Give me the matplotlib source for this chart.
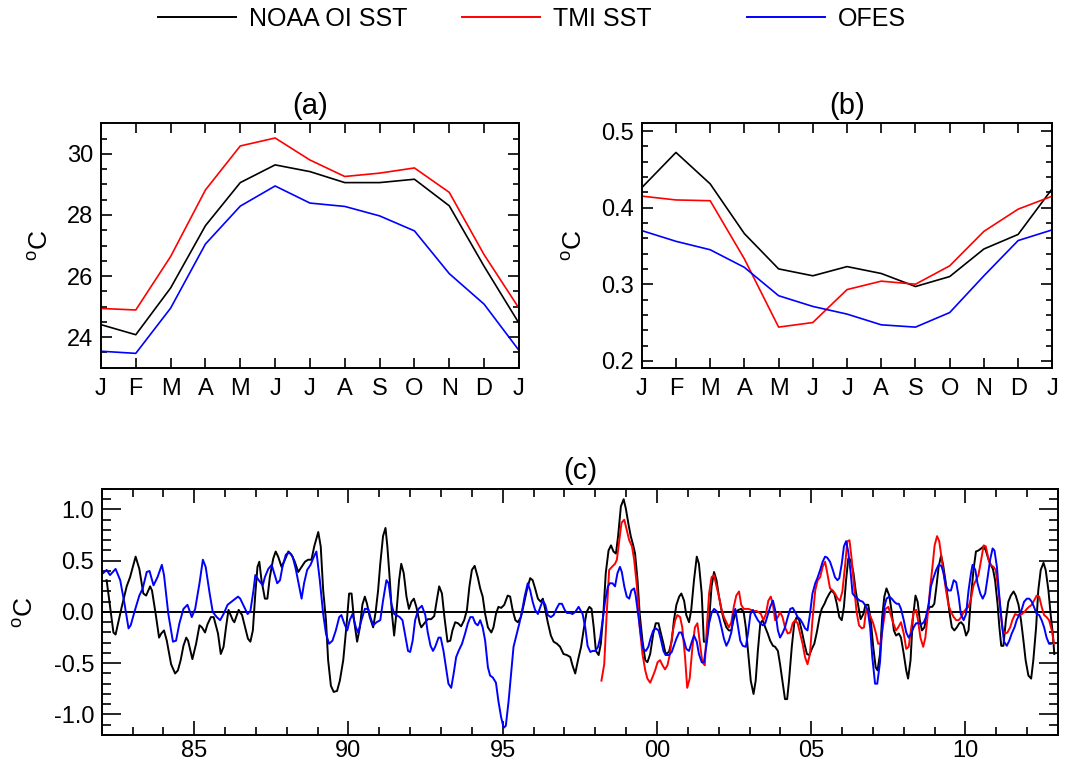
import numpy as np
import matplotlib.pyplot as plt
from matplotlib.ticker import MultipleLocator

plt.rcParams['font.family'] = ['Liberation Sans', 'DejaVu Sans']
plt.rcParams['mathtext.fontset'] = 'custom'
plt.rcParams['mathtext.rm'] = 'Liberation Sans'
plt.rcParams['axes.unicode_minus'] = False

# ---- panel (a): climatology, panel (b): monthly std ----
month_labels = ['J', 'F', 'M', 'A', 'M', 'J', 'J', 'A', 'S', 'O', 'N', 'D', 'J']
clim_noaa = [24.41, 24.08, 25.61, 27.65, 29.06, 29.64, 29.42, 29.06, 29.06, 29.17, 28.30, 26.32, 24.46]
clim_tmi = [24.94, 24.89, 26.64, 28.82, 30.26, 30.52, 29.80, 29.26, 29.37, 29.54, 28.74, 26.70, 24.95]
clim_ofes = [23.54, 23.47, 24.95, 27.05, 28.29, 28.95, 28.39, 28.28, 27.97, 27.48, 26.08, 25.08, 23.57]

std_noaa = [0.426, 0.472, 0.431, 0.366, 0.320, 0.311, 0.323, 0.314, 0.297, 0.310, 0.346, 0.365, 0.425]
std_tmi = [0.415, 0.410, 0.409, 0.333, 0.244, 0.250, 0.293, 0.304, 0.300, 0.324, 0.369, 0.398, 0.415]
std_ofes = [0.370, 0.356, 0.345, 0.322, 0.285, 0.271, 0.261, 0.247, 0.244, 0.263, 0.311, 0.357, 0.371]

# ---- panel (c): anomalies (decimal year, degC) ----
noaa_t = [1982.16, 1982.38, 1982.45, 1982.65, 1982.81, 1982.92, 1983.10, 1983.22, 1983.35, 1983.44,
          1983.57, 1983.63, 1983.75, 1983.86, 1983.93, 1984.02, 1984.11, 1984.25, 1984.38, 1984.47,
          1984.56, 1984.65, 1984.74, 1984.80, 1984.94, 1985.06, 1985.17, 1985.25, 1985.35, 1985.43,
          1985.54, 1985.63, 1985.77, 1985.86, 1985.95, 1986.03, 1986.11, 1986.25, 1986.30, 1986.44,
          1986.55, 1986.65, 1986.74, 1986.82, 1986.90, 1986.98, 1987.05, 1987.11, 1987.18, 1987.29,
          1987.37, 1987.45, 1987.56, 1987.64, 1987.72, 1987.83, 1987.94, 1988.05, 1988.15, 1988.26,
          1988.37, 1988.48, 1988.59, 1988.69, 1988.80, 1988.89, 1989.02, 1989.10, 1989.18, 1989.27,
          1989.34, 1989.43, 1989.52, 1989.63, 1989.72, 1989.83, 1989.93, 1990.02, 1990.10, 1990.18,
          1990.28, 1990.37, 1990.45, 1990.53, 1990.60, 1990.69, 1990.80, 1990.88, 1990.96, 1991.03,
          1991.12, 1991.20, 1991.26, 1991.34, 1991.41, 1991.48, 1991.55, 1991.64, 1991.71, 1991.79,
          1991.88, 1991.96, 1992.04, 1992.12, 1992.20, 1992.31, 1992.36, 1992.46, 1992.57, 1992.68,
          1992.78, 1992.86, 1992.94, 1993.03, 1993.11, 1993.21, 1993.30, 1993.37, 1993.46, 1993.55,
          1993.65, 1993.75, 1993.84, 1993.92, 1994.00, 1994.09, 1994.19, 1994.27, 1994.35, 1994.43,
          1994.52, 1994.63, 1994.70, 1994.78, 1994.86, 1994.95, 1995.05, 1995.16, 1995.24, 1995.32,
          1995.41, 1995.49, 1995.59, 1995.68, 1995.78, 1995.89, 1995.97, 1996.05, 1996.14, 1996.23,
          1996.30, 1996.38, 1996.46, 1996.56, 1996.65, 1996.76, 1996.86, 1996.97, 1997.08, 1997.19,
          1997.26, 1997.35, 1997.44, 1997.54, 1997.62, 1997.72, 1997.81, 1997.88, 1997.95, 1998.02,
          1998.11, 1998.18, 1998.27, 1998.34, 1998.43, 1998.51, 1998.59, 1998.67, 1998.74, 1998.83,
          1998.92, 1998.99, 1999.08, 1999.15, 1999.23, 1999.29, 1999.37, 1999.44, 1999.53, 1999.62,
          1999.69, 1999.78, 1999.88, 1999.96, 2000.05, 2000.12, 2000.21, 2000.28, 2000.39, 2000.48,
          2000.55, 2000.63, 2000.72, 2000.79, 2000.88, 2000.95, 2001.04, 2001.11, 2001.20, 2001.29,
          2001.36, 2001.45, 2001.52, 2001.60, 2001.69, 2001.77, 2001.85, 2001.93, 2002.01, 2002.09,
          2002.17, 2002.25, 2002.33, 2002.41, 2002.48, 2002.56, 2002.64, 2002.73, 2002.81, 2002.88,
          2002.97, 2003.04, 2003.13, 2003.20, 2003.27, 2003.35, 2003.43, 2003.51, 2003.59, 2003.67,
          2003.76, 2003.83, 2003.92, 2003.99, 2004.08, 2004.15, 2004.22, 2004.28, 2004.37, 2004.45,
          2004.53, 2004.61, 2004.69, 2004.78, 2004.86, 2004.94, 2005.02, 2005.10, 2005.18, 2005.27,
          2005.34, 2005.43, 2005.50, 2005.59, 2005.66, 2005.75, 2005.83, 2005.91, 2005.99, 2006.06,
          2006.13, 2006.20, 2006.28, 2006.37, 2006.44, 2006.53, 2006.60, 2006.69, 2006.76, 2006.85,
          2006.93, 2007.01, 2007.09, 2007.15, 2007.23, 2007.30, 2007.37, 2007.44, 2007.53, 2007.60,
          2007.68, 2007.75, 2007.84, 2007.91, 2008.00, 2008.08, 2008.14, 2008.22, 2008.29, 2008.38,
          2008.45, 2008.52, 2008.59, 2008.67, 2008.75, 2008.84, 2008.92, 2008.99, 2009.06, 2009.13,
          2009.21, 2009.27, 2009.35, 2009.42, 2009.49, 2009.56, 2009.64, 2009.72, 2009.80, 2009.86,
          2009.94, 2010.02, 2010.10, 2010.18, 2010.26, 2010.34, 2010.42, 2010.51, 2010.59, 2010.66,
          2010.75, 2010.82, 2010.89, 2010.96, 2011.04, 2011.10, 2011.16, 2011.23, 2011.31, 2011.39,
          2011.47, 2011.56, 2011.63, 2011.72, 2011.80, 2011.88, 2011.95, 2012.04, 2012.13, 2012.20,
          2012.29, 2012.36, 2012.44, 2012.53, 2012.60, 2012.69, 2012.76, 2012.83, 2012.88]
noaa_v = [0.31, -0.20, -0.22, 0.05, 0.25, 0.34, 0.54, 0.42, 0.18, 0.16,
          0.25, 0.21, -0.02, -0.25, -0.21, -0.18, -0.28, -0.51, -0.60, -0.57,
          -0.47, -0.33, -0.25, -0.28, -0.46, -0.31, -0.13, -0.15, -0.20, -0.12,
          -0.05, -0.05, -0.21, -0.41, -0.34, -0.15, 0.02, -0.08, -0.10, 0.02,
          -0.03, -0.15, -0.26, -0.29, -0.18, 0.18, 0.44, 0.49, 0.31, 0.13,
          0.13, 0.34, 0.52, 0.59, 0.54, 0.44, 0.51, 0.59, 0.56, 0.49,
          0.39, 0.44, 0.49, 0.51, 0.51, 0.64, 0.78, 0.64, 0.21, -0.08,
          -0.47, -0.72, -0.78, -0.77, -0.67, -0.47, -0.15, 0.18, 0.18, -0.08,
          -0.29, -0.15, 0.07, 0.15, 0.08, -0.05, -0.15, 0.00, 0.21, 0.47,
          0.74, 0.82, 0.64, 0.31, -0.02, -0.23, -0.02, 0.31, 0.47, 0.38,
          0.15, 0.03, 0.10, 0.13, 0.05, -0.11, -0.15, -0.11, -0.07, -0.07,
          -0.04, 0.11, 0.25, 0.18, -0.05, -0.29, -0.28, -0.18, -0.10, -0.11,
          -0.14, -0.08, 0.02, 0.25, 0.41, 0.45, 0.34, 0.23, 0.15, -0.02,
          -0.15, -0.20, -0.15, -0.02, 0.05, 0.04, 0.07, 0.16, 0.15, 0.02,
          -0.08, -0.10, -0.05, 0.07, 0.21, 0.33, 0.31, 0.23, 0.13, 0.10,
          0.13, 0.02, -0.10, -0.23, -0.29, -0.31, -0.34, -0.41, -0.42, -0.44,
          -0.52, -0.60, -0.47, -0.34, -0.18, 0.00, 0.05, 0.03, -0.15, -0.38,
          -0.42, -0.31, 0.02, 0.38, 0.60, 0.65, 0.59, 0.57, 0.74, 1.03,
          1.10, 1.01, 0.85, 0.74, 0.65, 0.57, 0.31, -0.02, -0.28, -0.47,
          -0.49, -0.41, -0.21, -0.11, -0.11, -0.20, -0.31, -0.41, -0.39, -0.28,
          -0.08, 0.07, 0.15, 0.18, 0.11, -0.03, -0.10, 0.02, 0.31, 0.54,
          0.47, 0.18, -0.29, -0.29, -0.08, 0.25, 0.39, 0.31, 0.15, 0.02,
          -0.08, -0.15, -0.18, -0.18, -0.08, 0.00, 0.02, 0.03, 0.00, -0.15,
          -0.44, -0.67, -0.80, -0.67, -0.38, -0.11, -0.08, -0.15, -0.21, -0.28,
          -0.33, -0.34, -0.38, -0.51, -0.70, -0.85, -0.85, -0.67, -0.34, -0.11,
          -0.05, -0.08, -0.18, -0.31, -0.41, -0.42, -0.36, -0.31, -0.20, -0.05,
          0.03, 0.08, 0.13, 0.18, 0.21, 0.18, 0.08, -0.05, -0.08, 0.05,
          0.31, 0.52, 0.51, 0.38, 0.21, 0.05, -0.07, -0.02, 0.07, 0.07,
          -0.08, -0.34, -0.54, -0.57, -0.41, -0.05, 0.15, 0.23, 0.16, 0.02,
          -0.18, -0.23, -0.21, -0.25, -0.41, -0.57, -0.65, -0.47, -0.08, 0.16,
          0.10, -0.08, -0.18, -0.15, -0.02, 0.05, 0.05, 0.08, 0.25, 0.44,
          0.55, 0.47, 0.31, 0.15, -0.02, -0.15, -0.18, -0.15, -0.11, -0.10,
          -0.13, -0.23, -0.18, 0.15, 0.41, 0.59, 0.60, 0.62, 0.64, 0.60,
          0.51, 0.46, 0.42, 0.31, 0.08, -0.15, -0.33, -0.33, -0.08, 0.10,
          0.16, 0.20, 0.16, 0.07, -0.08, -0.28, -0.47, -0.62, -0.65, -0.47,
          -0.15, 0.21, 0.41, 0.48, 0.41, 0.21, -0.02, -0.21, -0.41]

tmi_t = [1998.20, 1998.29, 1998.37, 1998.45, 1998.54, 1998.64, 1998.70, 1998.78, 1998.85, 1998.94,
         1999.02, 1999.10, 1999.19, 1999.26, 1999.35, 1999.44, 1999.53, 1999.62, 1999.69, 1999.78,
         1999.85, 1999.94, 2000.02, 2000.10, 2000.18, 2000.26, 2000.34, 2000.42, 2000.50, 2000.59,
         2000.66, 2000.75, 2000.82, 2000.91, 2000.98, 2001.06, 2001.15, 2001.23, 2001.31, 2001.38,
         2001.47, 2001.55, 2001.61, 2001.69, 2001.77, 2001.85, 2001.93, 2002.01, 2002.09, 2002.17,
         2002.25, 2002.33, 2002.41, 2002.49, 2002.57, 2002.66, 2002.73, 2002.81, 2002.89, 2002.97,
         2003.05, 2003.13, 2003.22, 2003.29, 2003.37, 2003.45, 2003.53, 2003.61, 2003.69, 2003.76,
         2003.83, 2003.92, 2003.99, 2004.07, 2004.15, 2004.24, 2004.32, 2004.40, 2004.48, 2004.56,
         2004.64, 2004.72, 2004.80, 2004.88, 2004.96, 2005.04, 2005.13, 2005.21, 2005.29, 2005.37,
         2005.45, 2005.52, 2005.61, 2005.70, 2005.77, 2005.86, 2005.93, 2006.01, 2006.10, 2006.17,
         2006.24, 2006.31, 2006.39, 2006.47, 2006.55, 2006.64, 2006.71, 2006.78, 2006.85, 2006.93,
         2007.01, 2007.10, 2007.17, 2007.25, 2007.34, 2007.41, 2007.50, 2007.57, 2007.66, 2007.75,
         2007.82, 2007.91, 2008.00, 2008.08, 2008.16, 2008.24, 2008.32, 2008.40, 2008.46, 2008.54,
         2008.63, 2008.70, 2008.78, 2008.86, 2008.94, 2009.00, 2009.08, 2009.15, 2009.22, 2009.29,
         2009.37, 2009.45, 2009.53, 2009.62, 2009.70, 2009.78, 2009.86, 2009.94, 2010.02, 2010.10,
         2010.18, 2010.26, 2010.34, 2010.42, 2010.51, 2010.59, 2010.66, 2010.75, 2010.82, 2010.91,
         2010.98, 2011.07, 2011.15, 2011.21, 2011.29, 2011.36, 2011.45, 2011.52, 2011.61, 2011.69,
         2011.75, 2011.83, 2011.91, 2011.99, 2012.06, 2012.15, 2012.22, 2012.31, 2012.39, 2012.47,
         2012.55, 2012.63, 2012.71, 2012.80, 2012.87]
tmi_v = [-0.67, -0.51, -0.02, 0.41, 0.44, 0.47, 0.51, 0.70, 0.87, 0.90,
         0.80, 0.70, 0.64, 0.51, 0.25, -0.15, -0.41, -0.57, -0.65, -0.69,
         -0.64, -0.57, -0.49, -0.47, -0.52, -0.56, -0.52, -0.41, -0.21, -0.08,
         -0.03, -0.05, -0.15, -0.44, -0.74, -0.65, -0.34, -0.15, -0.11, -0.28,
         -0.49, -0.52, -0.18, 0.18, 0.34, 0.36, 0.25, 0.15, 0.03, -0.05,
         -0.10, -0.15, -0.10, 0.05, 0.16, 0.20, 0.07, 0.03, 0.03, 0.03,
         0.02, 0.01, 0.01, 0.00, -0.02, -0.08, -0.02, 0.11, 0.15, 0.07,
         -0.08, -0.05, 0.00, -0.05, -0.15, -0.21, -0.20, -0.11, -0.08, -0.11,
         -0.21, -0.31, -0.44, -0.51, -0.41, -0.08, 0.21, 0.31, 0.34, 0.44,
         0.49, 0.38, 0.23, 0.21, 0.18, 0.13, 0.11, 0.20, 0.46, 0.69,
         0.70, 0.52, 0.25, 0.00, -0.13, -0.16, -0.15, 0.02, 0.00, -0.05,
         -0.11, -0.21, -0.31, -0.31, -0.11, 0.03, 0.05, -0.02, -0.11, -0.18,
         -0.15, -0.10, -0.21, -0.36, -0.34, -0.16, 0.00, 0.02, -0.08, -0.25,
         -0.34, -0.25, -0.02, 0.25, 0.47, 0.65, 0.74, 0.69, 0.54, 0.38,
         0.21, 0.07, 0.00, -0.05, -0.08, -0.08, -0.05, 0.00, 0.03, 0.05,
         0.13, 0.26, 0.31, 0.36, 0.51, 0.65, 0.64, 0.51, 0.46, 0.44,
         0.41, 0.21, -0.03, -0.18, -0.21, -0.20, -0.15, -0.08, -0.02, -0.03,
         -0.03, -0.02, 0.00, 0.03, 0.05, 0.07, 0.11, 0.16, 0.15, 0.05,
         -0.03, -0.05, -0.08, -0.18, -0.31]

ofes_t = [1982.05, 1982.16, 1982.27, 1982.45, 1982.60, 1982.74, 1982.87, 1982.94, 1983.08, 1983.22,
          1983.33, 1983.46, 1983.55, 1983.68, 1983.81, 1983.95, 1984.02, 1984.16, 1984.31, 1984.41,
          1984.52, 1984.65, 1984.78, 1984.92, 1985.03, 1985.17, 1985.28, 1985.37, 1985.50, 1985.60,
          1985.73, 1985.84, 1985.95, 1986.08, 1986.25, 1986.42, 1986.49, 1986.62, 1986.73, 1986.82,
          1986.92, 1986.98, 1987.09, 1987.22, 1987.29, 1987.40, 1987.51, 1987.58, 1987.69, 1987.78,
          1987.86, 1987.97, 1988.08, 1988.19, 1988.29, 1988.40, 1988.48, 1988.56, 1988.66, 1988.77,
          1988.88, 1988.96, 1989.07, 1989.18, 1989.27, 1989.37, 1989.48, 1989.59, 1989.70, 1989.77,
          1989.86, 1989.96, 1990.04, 1990.13, 1990.24, 1990.31, 1990.42, 1990.53, 1990.64, 1990.71,
          1990.80, 1990.91, 1991.03, 1991.12, 1991.23, 1991.30, 1991.39, 1991.48, 1991.55, 1991.66,
          1991.75, 1991.84, 1991.93, 1992.00, 1992.08, 1992.16, 1992.27, 1992.38, 1992.49, 1992.57,
          1992.66, 1992.74, 1992.81, 1992.92, 1992.99, 1993.08, 1993.16, 1993.24, 1993.33, 1993.41,
          1993.49, 1993.57, 1993.68, 1993.78, 1993.87, 1993.95, 1994.03, 1994.11, 1994.19, 1994.27,
          1994.35, 1994.43, 1994.52, 1994.59, 1994.68, 1994.78, 1994.86, 1994.95, 1995.03, 1995.10,
          1995.19, 1995.28, 1995.35, 1995.44, 1995.54, 1995.62, 1995.71, 1995.81, 1995.89, 1995.97,
          1996.05, 1996.14, 1996.22, 1996.30, 1996.38, 1996.46, 1996.56, 1996.65, 1996.74, 1996.83,
          1996.92, 1997.01, 1997.08, 1997.19, 1997.26, 1997.35, 1997.46, 1997.59, 1997.68, 1997.75,
          1997.84, 1997.91, 1998.00, 1998.09, 1998.16, 1998.24, 1998.32, 1998.41, 1998.47, 1998.56,
          1998.64, 1998.72, 1998.80, 1998.86, 1998.94, 1999.02, 1999.10, 1999.17, 1999.26, 1999.31,
          1999.39, 1999.48, 1999.55, 1999.64, 1999.72, 1999.80, 1999.88, 1999.96, 2000.05, 2000.12,
          2000.21, 2000.28, 2000.39, 2000.48, 2000.55, 2000.63, 2000.72, 2000.79, 2000.88, 2000.95,
          2001.04, 2001.13, 2001.20, 2001.29, 2001.36, 2001.45, 2001.52, 2001.61, 2001.69, 2001.77,
          2001.85, 2001.93, 2002.01, 2002.09, 2002.17, 2002.25, 2002.33, 2002.41, 2002.48, 2002.54,
          2002.61, 2002.70, 2002.78, 2002.88, 2002.95, 2003.03, 2003.11, 2003.18, 2003.27, 2003.35,
          2003.43, 2003.51, 2003.59, 2003.67, 2003.76, 2003.83, 2003.92, 2003.99, 2004.08, 2004.15,
          2004.24, 2004.32, 2004.40, 2004.48, 2004.56, 2004.64, 2004.72, 2004.80, 2004.88, 2004.96,
          2005.04, 2005.13, 2005.20, 2005.29, 2005.37, 2005.45, 2005.52, 2005.61, 2005.70, 2005.77,
          2005.85, 2005.91, 2005.99, 2006.06, 2006.13, 2006.20, 2006.28, 2006.34, 2006.42, 2006.50,
          2006.58, 2006.67, 2006.74, 2006.83, 2006.91, 2006.98, 2007.07, 2007.14, 2007.23, 2007.30,
          2007.37, 2007.44, 2007.53, 2007.61, 2007.69, 2007.77, 2007.84, 2007.91, 2008.00, 2008.08,
          2008.16, 2008.24, 2008.32, 2008.40, 2008.48, 2008.57, 2008.65, 2008.72, 2008.81, 2008.88,
          2008.97, 2009.05, 2009.13, 2009.22, 2009.29, 2009.37, 2009.45, 2009.53, 2009.62, 2009.70,
          2009.78, 2009.85, 2009.94, 2010.02, 2010.10, 2010.18, 2010.23, 2010.32, 2010.39, 2010.48,
          2010.56, 2010.64, 2010.72, 2010.80, 2010.88, 2010.94, 2011.02, 2011.09, 2011.18, 2011.25,
          2011.34, 2011.42, 2011.50, 2011.59, 2011.66, 2011.74, 2011.83, 2011.90, 2011.99, 2012.07,
          2012.15, 2012.22, 2012.31, 2012.39, 2012.47, 2012.55, 2012.63, 2012.71, 2012.77]
ofes_v = [0.38, 0.41, 0.36, 0.42, 0.31, 0.08, -0.16, -0.13, 0.02, 0.16,
          0.23, 0.39, 0.40, 0.26, 0.34, 0.46, 0.36, -0.02, -0.29, -0.28,
          -0.11, 0.03, 0.07, -0.05, 0.03, 0.28, 0.51, 0.44, 0.18, 0.00,
          -0.05, -0.08, -0.02, 0.07, 0.11, 0.15, 0.13, 0.05, -0.02, 0.01,
          0.21, 0.36, 0.31, 0.26, 0.34, 0.42, 0.46, 0.39, 0.28, 0.31,
          0.44, 0.56, 0.58, 0.54, 0.42, 0.25, 0.13, 0.28, 0.41, 0.46,
          0.54, 0.59, 0.31, -0.02, -0.21, -0.31, -0.28, -0.18, -0.05, -0.03,
          -0.11, -0.18, -0.08, -0.02, -0.15, -0.20, -0.08, 0.03, 0.03, -0.05,
          -0.13, -0.10, -0.08, 0.11, 0.31, 0.28, 0.08, -0.02, -0.03, -0.05,
          -0.08, -0.23, -0.38, -0.39, -0.28, -0.08, 0.03, 0.06, -0.03, -0.20,
          -0.33, -0.38, -0.34, -0.25, -0.25, -0.38, -0.54, -0.70, -0.74, -0.60,
          -0.44, -0.38, -0.31, -0.21, -0.11, -0.05, -0.05, -0.11, -0.13, -0.08,
          -0.15, -0.28, -0.54, -0.62, -0.64, -0.69, -0.87, -1.03, -1.13, -1.11,
          -0.87, -0.57, -0.34, -0.23, -0.11, 0.00, 0.15, 0.28, 0.21, 0.10,
          0.02, -0.02, 0.05, 0.11, 0.07, -0.03, -0.05, -0.03, 0.03, 0.08,
          0.08, 0.02, -0.01, -0.01, -0.02, 0.00, 0.05, -0.02, -0.16, -0.33,
          -0.39, -0.38, -0.38, -0.34, -0.25, -0.08, 0.11, 0.25, 0.28, 0.28,
          0.25, 0.38, 0.44, 0.39, 0.25, 0.15, 0.13, 0.21, 0.23, 0.16,
          -0.02, -0.23, -0.36, -0.38, -0.34, -0.25, -0.18, -0.16, -0.18, -0.26,
          -0.38, -0.42, -0.42, -0.39, -0.33, -0.26, -0.20, -0.20, -0.28, -0.36,
          -0.38, -0.29, -0.23, -0.29, -0.41, -0.49, -0.49, -0.31, -0.11, -0.01,
          0.03, 0.01, -0.05, -0.15, -0.26, -0.33, -0.28, -0.20, -0.02, 0.03,
          -0.11, -0.28, -0.33, -0.34, -0.21, -0.02, 0.02, -0.03, -0.08, -0.11,
          -0.13, -0.11, -0.03, 0.05, 0.11, 0.02, -0.18, -0.25, -0.20, -0.15,
          -0.05, 0.03, 0.04, 0.00, -0.05, -0.07, -0.11, -0.16, -0.18, -0.02,
          0.18, 0.28, 0.33, 0.41, 0.49, 0.54, 0.53, 0.49, 0.41, 0.34,
          0.31, 0.33, 0.47, 0.64, 0.69, 0.59, 0.38, 0.18, 0.15, 0.13,
          0.11, 0.10, 0.07, 0.02, -0.15, -0.44, -0.70, -0.70, -0.49, -0.15,
          0.05, 0.13, 0.15, 0.13, 0.10, 0.08, 0.08, 0.03, -0.08, -0.20,
          -0.25, -0.21, -0.15, -0.11, -0.11, -0.12, -0.10, -0.05, 0.08, 0.25,
          0.34, 0.41, 0.46, 0.45, 0.38, 0.25, 0.21, 0.21, 0.31, 0.29,
          0.15, -0.02, -0.08, -0.02, 0.21, 0.38, 0.46, 0.41, 0.28, 0.18,
          0.13, 0.18, 0.34, 0.51, 0.62, 0.60, 0.44, 0.18, -0.11, -0.29,
          -0.33, -0.28, -0.21, -0.15, -0.08, -0.03, 0.03, 0.10, 0.13, 0.13,
          0.10, 0.05, -0.02, -0.03, -0.08, -0.15, -0.25, -0.31, -0.31]

year_ticks = [1985, 1990, 1995, 2000, 2005, 2010]
year_labels = ['85', '90', '95', '00', '05', '10']

names = ['NOAA OI SST', 'TMI SST', 'OFES']
colors = ['black', '#ff0000', '#0000ff']

fig = plt.figure(figsize=(10.66, 7.68), dpi=100)
ax_a = fig.add_axes([0.0947, 0.5212, 0.3921, 0.3182])
ax_b = fig.add_axes([0.6020, 0.5212, 0.3852, 0.3182])
ax_c = fig.add_axes([0.0954, 0.0430, 0.8971, 0.3203])


def style(ax, xlen, xminlen, ylen, yminlen, xpad):
    for s in ax.spines.values():
        s.set_linewidth(1.4)
    ax.tick_params(which='both', direction='in', top=True, right=True,
                   labelsize=17, width=1.2)
    ax.tick_params(axis='y', pad=5.5)
    ax.tick_params(axis='x', pad=xpad)
    ax.tick_params(axis='x', which='major', length=xlen)
    ax.tick_params(axis='x', which='minor', length=xminlen)
    ax.tick_params(axis='y', which='major', length=ylen)
    ax.tick_params(axis='y', which='minor', length=yminlen)


mx = np.arange(len(month_labels))
ylab = '$^{\\rm o}$C'

# (a)
for vals, c in zip([clim_noaa, clim_tmi, clim_ofes], colors):
    ax_a.plot(mx, vals, color=c, lw=1.2)
ax_a.set_xlim(0, 12)
ax_a.set_ylim(23, 31)
ax_a.set_xticks(mx)
ax_a.set_xticklabels(month_labels)
ax_a.set_yticks([24, 26, 28, 30])
ax_a.yaxis.set_minor_locator(MultipleLocator(0.5))
style(ax_a, 7, 0, 8, 4.5, 7.5)
ax_a.set_title('(a)', fontsize=21, pad=7)
ax_a.set_ylabel(ylab, fontsize=19)
ax_a.yaxis.set_label_coords(-0.115, 0.5)

# (b)
for vals, c in zip([std_noaa, std_tmi, std_ofes], colors):
    ax_b.plot(mx, vals, color=c, lw=1.2)
ax_b.set_xlim(0, 12)
ax_b.set_ylim(0.191, 0.51)
ax_b.set_xticks(mx)
ax_b.set_xticklabels(month_labels)
ax_b.set_yticks([0.2, 0.3, 0.4, 0.5])
ax_b.set_yticklabels(['0.2', '0.3', '0.4', '0.5'])
ax_b.yaxis.set_minor_locator(MultipleLocator(0.02))
style(ax_b, 7, 0, 8, 4.5, 7.5)
ax_b.set_title('(b)', fontsize=21, pad=7)
ax_b.set_ylabel(ylab, fontsize=19)
ax_b.yaxis.set_label_coords(-0.134, 0.5)

# (c)
ax_c.axhline(0, color='black', lw=1.4)
lines = []
for t, v, c in zip([noaa_t, tmi_t, ofes_t], [noaa_v, tmi_v, ofes_v], colors):
    ln, = ax_c.plot(t, v, color=c, lw=1.4)
    lines.append(ln)
ax_c.set_xlim(1982, 2013)
ax_c.set_ylim(-1.2, 1.2)
ax_c.set_xticks(year_ticks)
ax_c.set_xticklabels(year_labels)
ax_c.xaxis.set_minor_locator(MultipleLocator(1))
ax_c.set_yticks([-1.0, -0.5, 0.0, 0.5, 1.0])
ax_c.set_yticklabels(['-1.0', '-0.5', '0.0', '0.5', '1.0'])
ax_c.yaxis.set_minor_locator(MultipleLocator(0.1))
style(ax_c, 10, 5.5, 13.5, 6.5, 3.8)
ax_c.set_title('(c)', fontsize=21, pad=7)
ax_c.set_ylabel(ylab, fontsize=19)
ax_c.yaxis.set_label_coords(-0.067, 0.5)

# legend entries placed one by one (uneven spacing as in the original)
legend_x = [158 / 1066, 462 / 1066, 747 / 1066]
for ln, name, lx in zip(lines, names, legend_x):
    fig.legend([ln], [name], loc='center left', bbox_to_anchor=(lx, 1 - 19 / 768),
               frameon=False, fontsize=18, handlelength=3.1, handletextpad=0.55,
               borderpad=0, borderaxespad=0)

fig.savefig('out.png', dpi=100)
